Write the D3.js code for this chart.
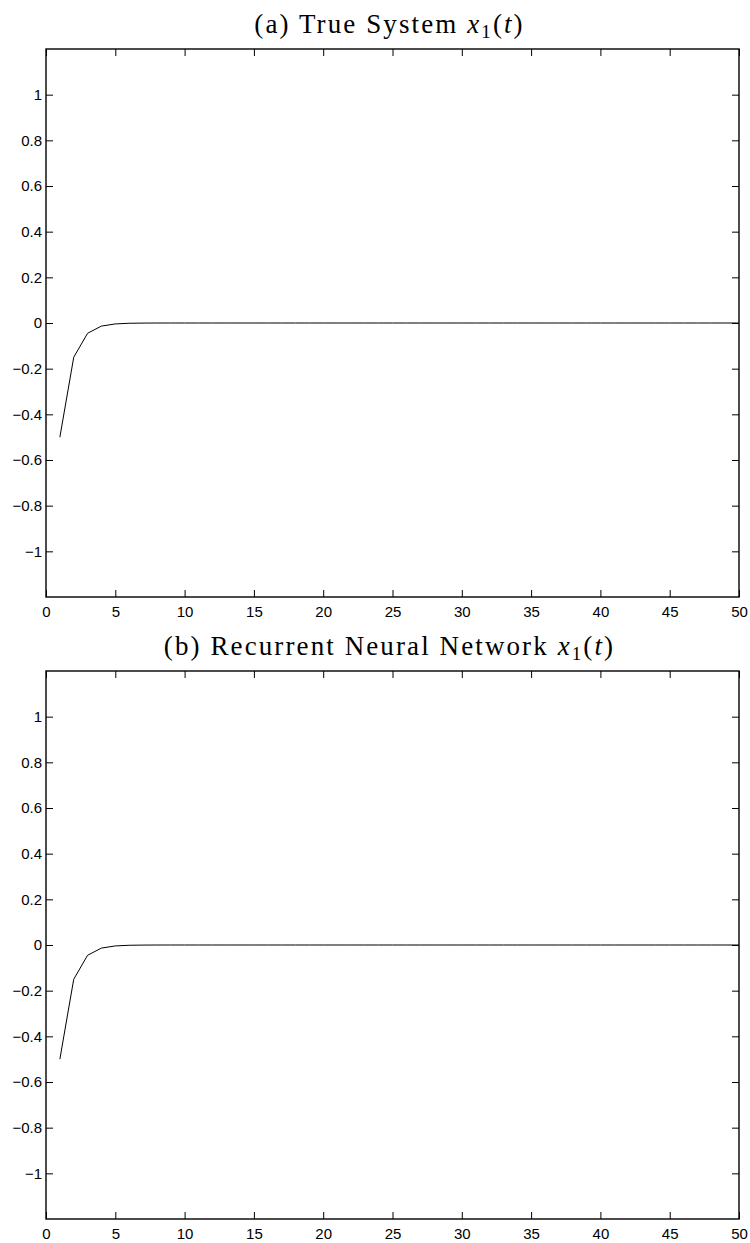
<!DOCTYPE html>
<html>
<head>
<meta charset="utf-8">
<script src="https://cdn.jsdelivr.net/npm/d3@7"></script>
<style>
  html, body { margin: 0; padding: 0; background: #fff; }
  svg { display: block; }
  .title { font-family: "Liberation Serif", "DejaVu Serif", serif; font-size: 27px; fill: #000; letter-spacing: 2.1px; }
</style>
</head>
<body>
<svg id="chart" width="750" height="1243"></svg>
<script>
// Time steps 1..50
const steps = d3.range(1, 51);

// State x1(t) of the true system
const trueSystem = [
  -0.5, -0.15, -0.045, -0.0135, -0.00405, -0.0012, -0.00036, -0.0001, -0.00003, -0.00001,
  0, 0, 0, 0, 0, 0, 0, 0, 0, 0,
  0, 0, 0, 0, 0, 0, 0, 0, 0, 0,
  0, 0, 0, 0, 0, 0, 0, 0, 0, 0,
  0, 0, 0, 0, 0, 0, 0, 0, 0, 0
];

// State x1(t) produced by the recurrent neural network
const rnnOutput = [
  -0.5, -0.15, -0.045, -0.0135, -0.00405, -0.0012, -0.00036, -0.0001, -0.00003, -0.00001,
  0, 0, 0, 0, 0, 0, 0, 0, 0, 0,
  0, 0, 0, 0, 0, 0, 0, 0, 0, 0,
  0, 0, 0, 0, 0, 0, 0, 0, 0, 0,
  0, 0, 0, 0, 0, 0, 0, 0, 0, 0
];

const xTicks = [0, 5, 10, 15, 20, 25, 30, 35, 40, 45, 50];
const yTicks = [-1, -0.8, -0.6, -0.4, -0.2, 0, 0.2, 0.4, 0.6, 0.8, 1];

const panels = [
  { prefix: "(a) True System ", values: trueSystem, top: 49 },
  { prefix: "(b) Recurrent Neural Network ", values: rnnOutput, top: 671 }
];

const svg = d3.select("#chart");
const left = 46, right = 739, plotH = 548;

const x = d3.scaleLinear().domain([0, 50]).range([left, right]);
const fmt = d => (d === 0 ? "0" : String(d).replace("-", "\u2212"));

panels.forEach(p => {
  const y = d3.scaleLinear().domain([-1.2, 1.2]).range([p.top + plotH, p.top]);
  const g = svg.append("g");

  // tick marks on all four sides, pointing inward
  const tickLen = 7;
  const bottomAxis = d3.axisBottom(x).tickValues(xTicks).tickFormat(d => d).tickSizeInner(-tickLen).tickSizeOuter(0).tickPadding(9);
  const topAxis = d3.axisTop(x).tickValues(xTicks).tickFormat("").tickSizeInner(-tickLen).tickSizeOuter(0);
  const leftAxis = d3.axisLeft(y).tickValues(yTicks).tickFormat(fmt).tickSizeInner(-tickLen).tickSizeOuter(0).tickPadding(4);
  const rightAxis = d3.axisRight(y).tickValues(yTicks).tickFormat("").tickSizeInner(-tickLen).tickSizeOuter(0);

  const gb = g.append("g").attr("transform", `translate(0,${y(-1.2)})`).call(bottomAxis);
  const gt = g.append("g").attr("transform", `translate(0,${y(1.2)})`).call(topAxis);
  const gl = g.append("g").attr("transform", `translate(${left},0)`).call(leftAxis);
  const gr = g.append("g").attr("transform", `translate(${right},0)`).call(rightAxis);

  [gb, gt, gl, gr].forEach(a => {
    a.attr("font-family", "'Liberation Sans', Arial, sans-serif").attr("font-size", 15);
    a.select(".domain").remove();
    a.selectAll(".tick line").attr("stroke", "#000").attr("stroke-width", 1);
    a.selectAll(".tick text").attr("fill", "#000");
  });

  // axes frame
  g.append("rect")
    .attr("x", left).attr("y", y(1.2))
    .attr("width", right - left).attr("height", y(-1.2) - y(1.2))
    .attr("fill", "none").attr("stroke", "#000").attr("stroke-width", 1.4);

  // series
  const line = d3.line().x((d, i) => x(steps[i])).y(d => y(d));
  g.append("path")
    .datum(p.values)
    .attr("d", line)
    .attr("fill", "none").attr("stroke", "#000").attr("stroke-width", 1);

  // title
  const t = g.append("text").attr("class", "title")
    .attr("x", (left + right) / 2 - 3).attr("y", p.top - 16)
    .attr("text-anchor", "middle");
  t.append("tspan").text(p.prefix);
  t.append("tspan").attr("font-style", "italic").text("x");
  t.append("tspan").attr("font-size", "19px").attr("dy", 5).text("1");
  t.append("tspan").attr("dy", -5).text("(");
  t.append("tspan").attr("font-style", "italic").text("t");
  t.append("tspan").text(")");
});
</script>
</body>
</html>
